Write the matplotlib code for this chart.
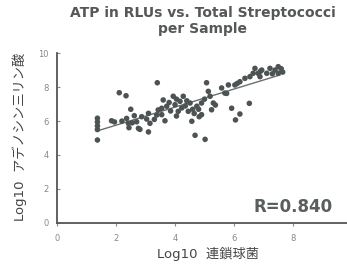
import numpy as np
import matplotlib
matplotlib.use("Agg")
import matplotlib.pyplot as plt

plt.rcParams['font.family'] = ['DejaVu Sans', 'Noto Sans CJK JP']

title = "ATP in RLUs vs. Total Streptococci\nper Sample"
xlabel = "Log10  連鎖球菌"
ylabel = "Log10  アデノシン三リン酸"
r_text = "R=0.840"
xticks = [0, 2, 4, 6, 8, 10]
yticks = [0, 2, 4, 6, 8, 10]

x_vals = [1.37, 1.37, 1.37, 1.37, 1.37, 1.85, 1.95, 2.11, 2.34, 2.50,
          3.40, 5.07, 3.10, 4.68, 5.02, 5.92, 6.20, 6.05, 6.52, 5.37,
          3.66, 2.81, 4.82,
          2.36, 2.42, 2.44, 2.62, 2.70, 2.76, 2.87, 3.04, 3.10, 3.15,
          3.38, 3.43, 3.55, 3.60, 3.55, 3.94, 4.00, 4.11, 4.17, 4.28,
          4.23, 4.45, 4.51, 4.57, 4.74, 4.90, 5.13, 5.19, 5.30, 5.24,
          5.58, 5.69, 4.90, 3.72, 4.60,
          5.81, 6.03, 6.20, 6.37, 6.54, 6.65, 6.71, 6.82, 6.88, 6.94,
          7.11, 7.22, 7.39, 7.50, 7.50, 5.75, 6.11,
          3.80, 3.85, 4.05, 4.35, 4.40, 4.65, 4.80, 5.00, 7.60, 7.65,
          7.30, 6.90, 4.05, 3.30, 2.55, 2.20]
y_vals = [6.17, 5.95, 5.72, 5.50, 4.88, 6.02, 5.95, 7.68, 7.50, 6.70,
          8.27, 8.27, 5.36, 5.16, 4.92, 6.76, 6.42, 6.07, 7.05, 6.95,
          6.02, 5.51, 6.26,
          6.16, 5.87, 5.61, 6.32, 5.96, 5.57, 6.26, 6.12, 6.46, 5.87,
          6.36, 6.66, 6.76, 7.25, 6.38, 7.47, 6.97, 6.58, 7.17, 7.47,
          6.78, 6.58, 7.07, 5.99, 6.88, 7.07, 7.76, 7.47, 7.07, 6.67,
          7.96, 7.66, 6.38, 6.88, 6.70,
          8.14, 8.14, 8.33, 8.53, 8.63, 8.83, 9.12, 8.83, 8.63, 9.02,
          8.83, 9.12, 9.02, 9.22, 8.83, 7.64, 8.23,
          7.10, 6.60, 7.30, 6.90, 7.20, 6.45, 6.70, 7.30, 9.10, 8.90,
          8.80, 8.95, 6.30, 6.10, 5.90, 6.00]

# trend line endpoints
trend_x = [1.46, 7.56]
trend_y = [5.47, 8.73]

fig = plt.figure(figsize=(3.47, 2.68), dpi=100)
ax = fig.add_axes([57/347, 1-222.5/268, 295/347, 169/268])
ax.set_xlim(0, 10)
ax.set_ylim(0, 10)

ax.scatter(x_vals, y_vals, s=16, color='#4d5353', edgecolors='none', zorder=3)
ax.plot(trend_x, trend_y, color='#6a6e6e', lw=1.0, zorder=2)

for s in ['top', 'right']:
    ax.spines[s].set_visible(False)
for s in ['left', 'bottom']:
    ax.spines[s].set_color('#555555')
    ax.spines[s].set_linewidth(1.3)

ax.set_xticks(xticks)
ax.set_yticks(yticks)
ax.tick_params(axis='both', length=2, width=0.8, colors='#888888', labelsize=6, pad=6)
ax.tick_params(axis='y', direction='in')
ax.tick_params(axis='x', direction='out')

ax.text(0.936, 0.092, r_text, transform=ax.transAxes, ha='right', va='center',
        fontsize=12, fontweight='bold', color='#5a5e5e')

fig.text(0.585, 1-6/268, title, ha='center', va='top', fontsize=10,
         fontweight='bold', color='#555858', linespacing=1.15)

fig.text(208/347, 1-254/268, xlabel, ha='center', va='center', fontsize=9.5,
         color='#444444', family=['DejaVu Sans', 'Noto Sans CJK JP'])
fig.text(20/347, 1-137/268, ylabel, ha='center', va='center', fontsize=9.5,
         rotation=90, color='#444444', family=['DejaVu Sans', 'Noto Sans CJK JP'])

fig.savefig("out.png", dpi=100, facecolor='white')
